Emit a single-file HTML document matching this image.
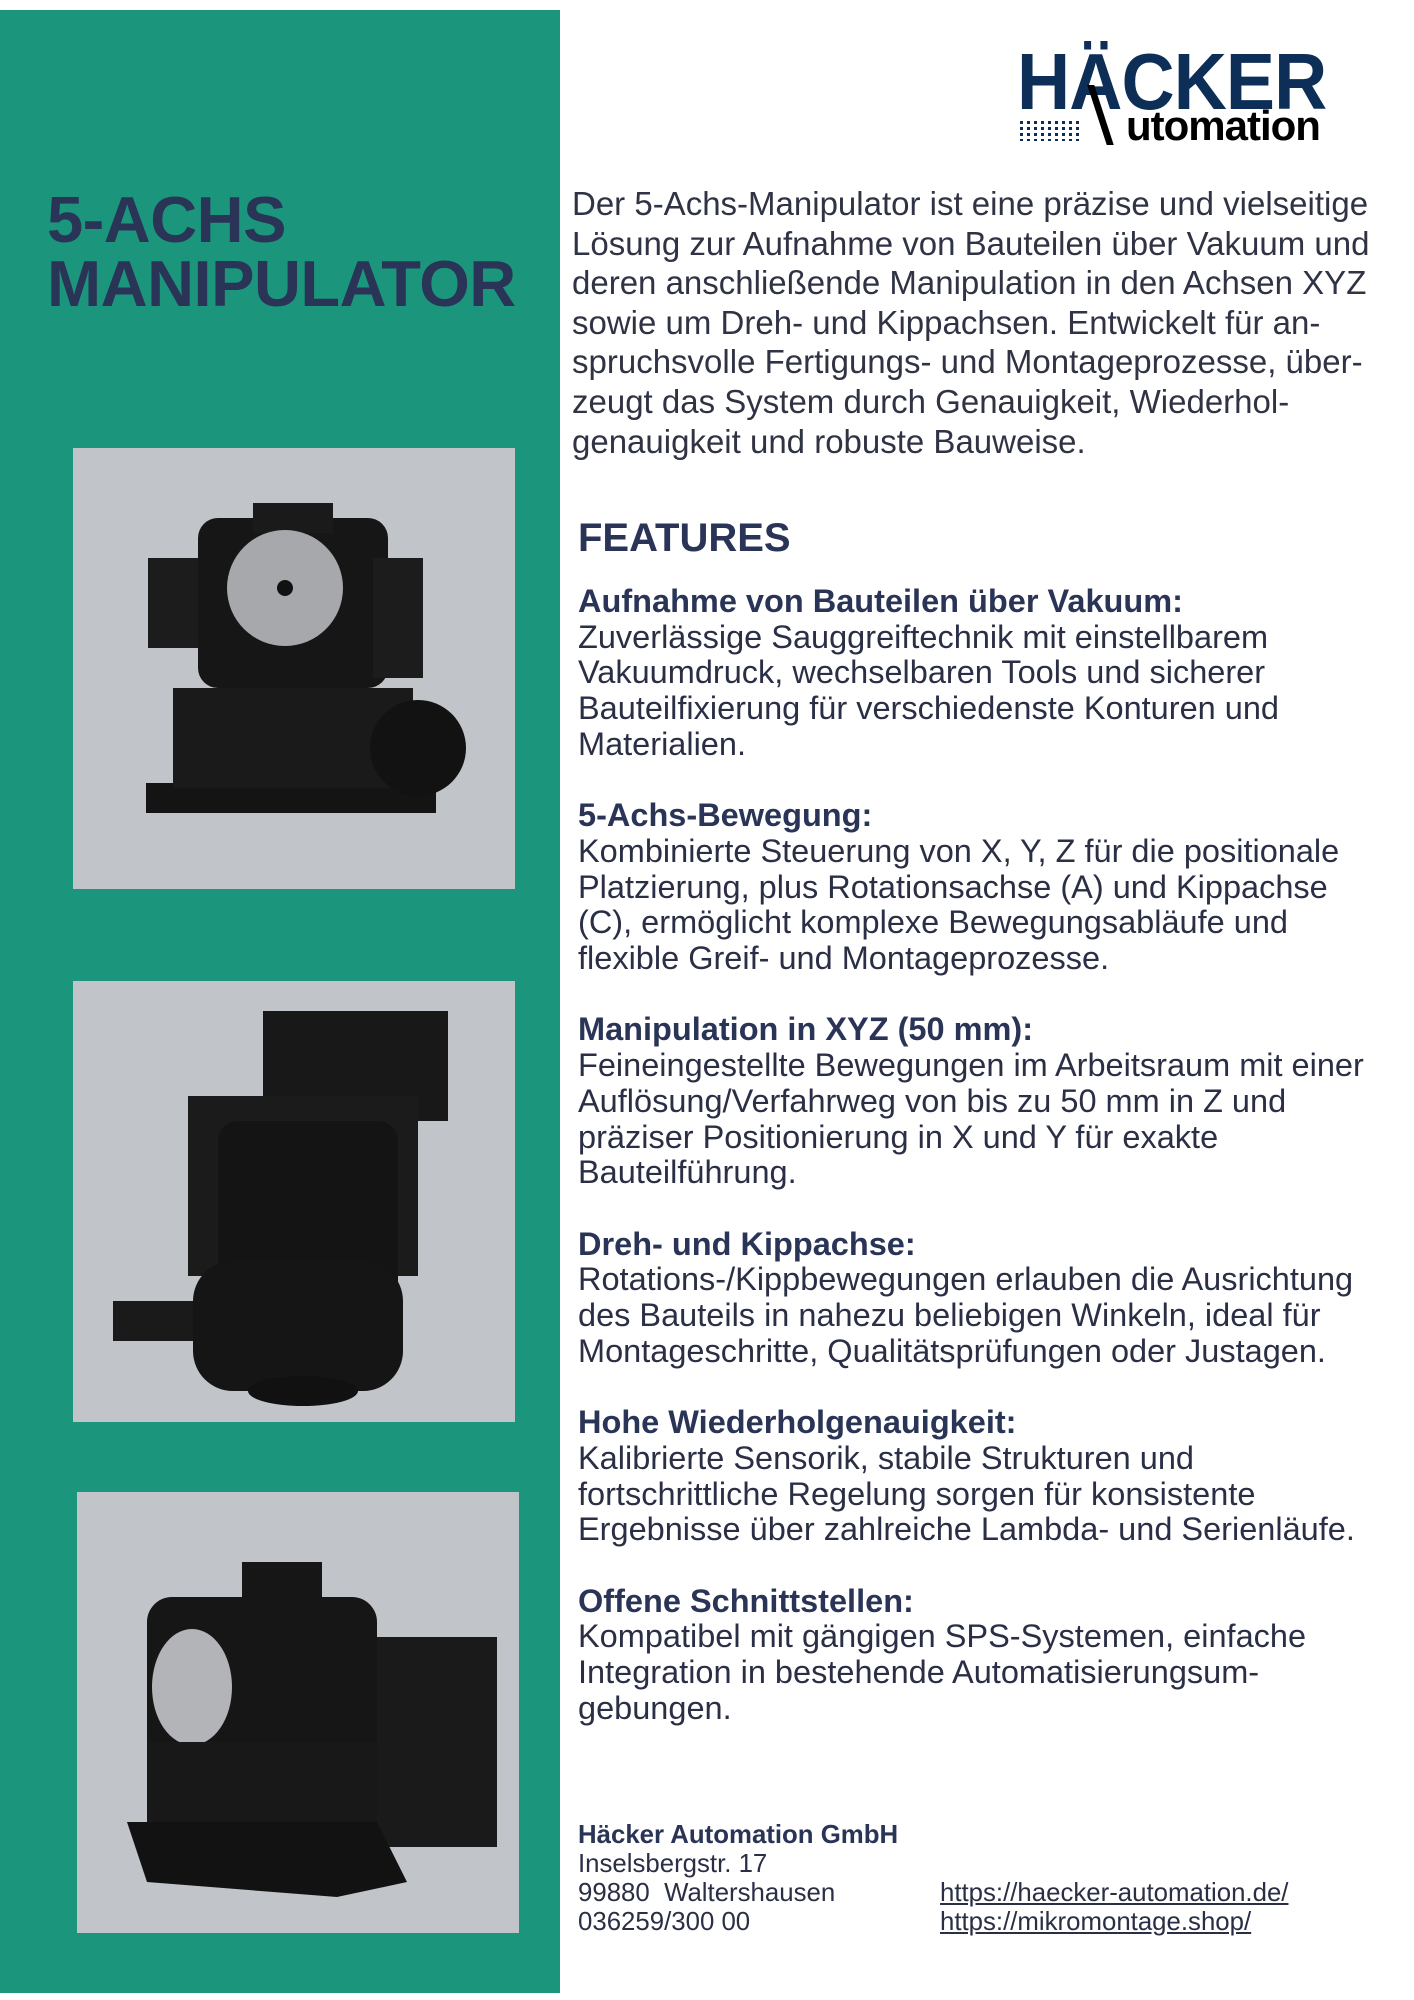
<!DOCTYPE html>
<html><head><meta charset="utf-8"><style>
body{margin:0;width:1414px;height:2000px;background:#fff;position:relative;overflow:hidden;font-family:"Liberation Sans",sans-serif}
.abs{position:absolute}
#green{left:0;top:10px;width:560px;height:1983px;background:#1b967d}
h1{position:absolute;left:47px;top:188px;margin:0;font-size:65px;line-height:64px;font-weight:bold;color:#2a3456;letter-spacing:-0.5px}
.img{position:absolute;background:#c1c5ca;width:442px;height:441px}
#intro{left:572px;top:184px;font-size:33px;line-height:39.6px;color:#2f3344;white-space:nowrap}
#feat{left:578px;top:516px;font-size:40px;font-weight:bold;color:#2a3456;margin:0}
#fl{left:578px;top:584px;font-size:32.5px;line-height:35.7px;color:#2a2f45;white-space:nowrap}
#fl b{color:#2a3456}
#foot{left:578px;top:1821px;font-size:25.8px;line-height:29px;color:#2a2f45;white-space:nowrap}
#links{left:940px;top:1879px;font-size:25.8px;line-height:29px;color:#2a2f45;text-decoration:underline;white-space:nowrap}
</style></head><body>
<div id="green" class="abs"></div>
<h1>5-ACHS<br>MANIPULATOR</h1>

<div class="img" style="left:73px;top:448px">
<svg width="442" height="441">
<rect x="73" y="335" width="290" height="30" fill="#141414"/>
<rect x="100" y="240" width="240" height="100" fill="#1a1a1a"/>
<circle cx="345" cy="300" r="48" fill="#121212"/>
<rect x="75" y="110" width="55" height="90" fill="#1c1c1c"/>
<rect x="125" y="70" width="190" height="170" rx="20" fill="#161616"/>
<rect x="180" y="55" width="80" height="30" fill="#1a1a1a"/>
<circle cx="212" cy="140" r="58" fill="#a6a8ab"/>
<circle cx="212" cy="140" r="8" fill="#111"/>
<rect x="300" y="110" width="50" height="120" fill="#1c1c1c"/>
</svg></div>

<div class="img" style="left:73px;top:981px">
<svg width="442" height="441">
<rect x="190" y="30" width="185" height="110" fill="#181818"/>
<rect x="115" y="115" width="230" height="180" fill="#1b1b1b"/>
<rect x="145" y="140" width="180" height="180" rx="20" fill="#141414"/>
<rect x="40" y="320" width="90" height="40" fill="#1a1a1a"/>
<rect x="120" y="280" width="210" height="130" rx="40" fill="#151515"/>
<ellipse cx="230" cy="410" rx="55" ry="15" fill="#111"/>
</svg></div>

<div class="img" style="left:77px;top:1492px">
<svg width="442" height="441">
<rect x="165" y="70" width="80" height="80" fill="#161616"/>
<rect x="250" y="145" width="170" height="210" fill="#1a1a1a"/>
<rect x="70" y="105" width="230" height="190" rx="25" fill="#161616"/>
<ellipse cx="115" cy="195" rx="40" ry="58" fill="#b2b4b7"/>
<rect x="70" y="250" width="230" height="140" fill="#181818"/>
<polygon points="50,330 300,330 330,390 260,405 70,390" fill="#121212"/>
</svg></div>

<div class="abs" style="left:1017px;top:42px;font-size:80px;font-weight:bold;color:#0d2e57;line-height:80px;transform:scaleX(0.92);transform-origin:0 0;letter-spacing:-1px">HÄCKER</div>
<div class="abs" style="left:1097px;top:85px;width:7px;height:60px;background:#000;transform:skewX(18deg)"></div>
<div class="abs" style="left:1126px;top:104px;font-size:42px;font-weight:bold;color:#000;line-height:44px;letter-spacing:-1px">utomation</div>
<div class="abs" style="left:1020px;top:121px;width:62px;height:20px;background:repeating-linear-gradient(90deg,#0d2e57 0 3px,transparent 3px 7px);-webkit-mask:repeating-linear-gradient(180deg,#000 0 3px,transparent 3px 6px)"></div>

<div id="intro" class="abs">Der 5-Achs-Manipulator ist eine präzise und vielseitige<br>Lösung zur Aufnahme von Bauteilen über Vakuum und<br>deren anschließende Manipulation in den Achsen XYZ<br>sowie um Dreh- und Kippachsen. Entwickelt für an-<br>spruchsvolle Fertigungs- und Montageprozesse, über-<br>zeugt das System durch Genauigkeit, Wiederhol-<br>genauigkeit und robuste Bauweise.</div>

<h2 id="feat" class="abs">FEATURES</h2>
<div id="fl" class="abs"><b>Aufnahme von Bauteilen über Vakuum:</b><br>Zuverlässige Sauggreiftechnik mit einstellbarem<br>Vakuumdruck, wechselbaren Tools und sicherer<br>Bauteilfixierung für verschiedenste Konturen und<br>Materialien.<br><br><b>5-Achs-Bewegung:</b><br>Kombinierte Steuerung von X, Y, Z für die positionale<br>Platzierung, plus Rotationsachse (A) und Kippachse<br>(C), ermöglicht komplexe Bewegungsabläufe und<br>flexible Greif- und Montageprozesse.<br><br><b>Manipulation in XYZ (50 mm):</b><br>Feineingestellte Bewegungen im Arbeitsraum mit einer<br>Auflösung/Verfahrweg von bis zu 50 mm in Z und<br>präziser Positionierung in X und Y für exakte<br>Bauteilführung.<br><br><b>Dreh- und Kippachse:</b><br>Rotations-/Kippbewegungen erlauben die Ausrichtung<br>des Bauteils in nahezu beliebigen Winkeln, ideal für<br>Montageschritte, Qualitätsprüfungen oder Justagen.<br><br><b>Hohe Wiederholgenauigkeit:</b><br>Kalibrierte Sensorik, stabile Strukturen und<br>fortschrittliche Regelung sorgen für konsistente<br>Ergebnisse über zahlreiche Lambda- und Serienläufe.<br><br><b>Offene Schnittstellen:</b><br>Kompatibel mit gängigen SPS-Systemen, einfache<br>Integration in bestehende Automatisierungsum-<br>gebungen.</div>

<div id="foot" class="abs"><b style="color:#2a3456">Häcker Automation GmbH</b><br>Inselsbergstr. 17<br>99880&nbsp; Waltershausen<br>036259/300 00</div>
<div id="links" class="abs">https://haecker-automation.de/<br>https://mikromontage.shop/</div>
</body></html>
